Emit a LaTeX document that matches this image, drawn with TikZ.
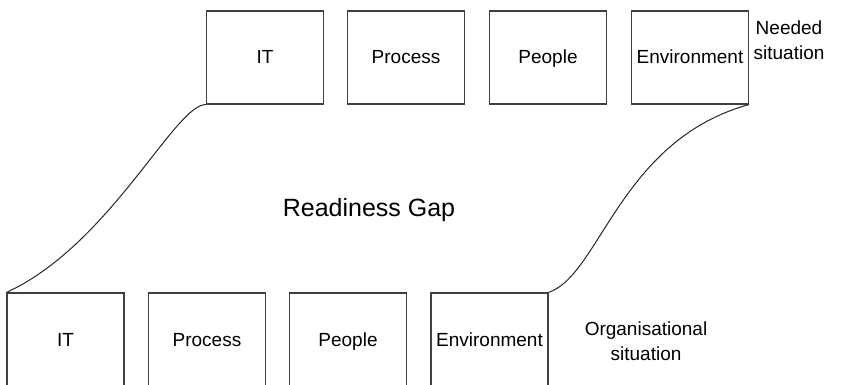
\documentclass[tikz,border=0pt]{standalone}
\usepackage{fontspec}
\setmainfont{Liberation Sans}
\begin{document}
\begin{tikzpicture}[x=1pt,y=-1pt,
  box/.style={draw=black!75, line width=1.1pt, minimum width=117pt, minimum height=93pt, inner sep=0pt, text height=13pt, text depth=0pt, font=\fontsize{19}{19}\selectfont},
  lbl/.style={align=center, font=\fontsize{19}{25}\selectfont, inner sep=0pt},
  gap/.style={font=\fontsize{25}{25}\selectfont, inner sep=0pt},
  conn/.style={draw=black!85, line width=1pt}]
\useasboundingbox (0,0) rectangle (853,385);
\clip (0,0) rectangle (853,385);
% needed situation
\node[box] (tit) at (265,57.5) {IT};
\node[box] (tpr) at (406,57.5) {Process};
\node[box] (tpe) at (548,57.5) {People};
\node[box] (ten) at (690,57.5) {Environment};
\node[lbl] (need) at (789,40) {Needed\\situation};
% organisational situation
\node[box] (bit) at (65.5,339.5) {IT};
\node[box] (bpr) at (207,339.5) {Process};
\node[box] (bpe) at (348,339.5) {People};
\node[box] (ben) at (489.5,339.5) {Environment};
\node[lbl] (org) at (646,341) {Organisational\\situation};
% gap
\node[gap] (gapl) at (369,210) {Readiness Gap};
% connectors
\draw[conn] (bit.north west) .. controls (110,245) and (175,104) .. (tit.south west);
\draw[conn] (ben.north east) .. controls (600,275) and (620,140) .. (ten.south east);
\end{tikzpicture}
\end{document}
